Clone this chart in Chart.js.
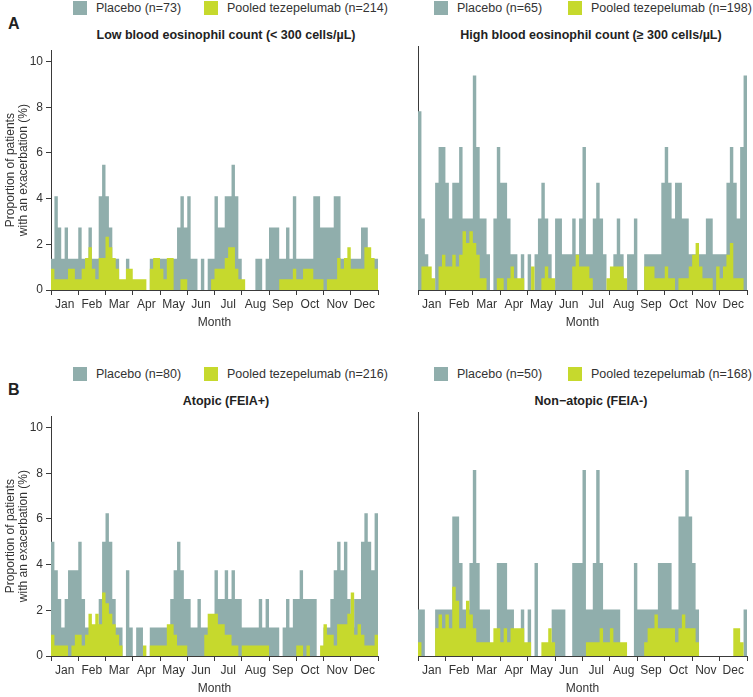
<!DOCTYPE html>
<html>
<head>
<meta charset="utf-8">
<script src="https://cdn.jsdelivr.net/npm/chart.js@4.4.1/dist/chart.umd.min.js"></script>
<style>
  html, body { margin: 0; padding: 0; background: #fff; width: 753px; height: 697px; overflow: hidden; }
  body { position: relative; font-family: "Liberation Sans", Arial, sans-serif; color: #333; }
  canvas { position: absolute; }
  .txt { position: absolute; white-space: nowrap; }
  .letter { font-weight: bold; font-size: 16px; color: #222; }
  .ptitle { font-weight: bold; font-size: 12.5px; color: #222; transform: translate(-50%, -50%); }
  .sw { position: absolute; width: 14px; height: 14px; }
  .lg { font-size: 12.5px; color: #333; transform: translateY(-50%); }
</style>
</head>
<body>
<div id="root"></div>
<script>
// ---------- DATA ----------
const months = ['Jan','Feb','Mar','Apr','May','Jun','Jul','Aug','Sep','Oct','Nov','Dec'];
const binsPerMonth = 8; // each value covers 1/8 of a month

// Patients with an exacerbation per period (counts)
const nLowPlacebo = 73,  nLowTez = 214;
const nHighPlacebo = 65, nHighTez = 198;
const nAtopicPlacebo = 80, nAtopicTez = 216;
const nNonAtopicPlacebo = 50, nNonAtopicTez = 168;

const lowPlacebo = [
  1,3,2,1,2,1,1,1,2,1, 1,2,1,1,3,4,3,2,1,1, 0,0,1,0,0,0,0,0,0,1,
  1,1,1,1,1,1,1,2,3,2, 3,1,1,0,1,0,1,1,3,2, 2,3,3,4,3,1,0,0,0,0,
  1,1,0,1,2,2,2,1,1,2, 1,3,1,1,1,1,1,3,3,2, 2,2,2,3,3,1,1,1,1,1,
  1,2,2,1,1,1];
const lowTez = [
  2,1,1,1,1,2,2,1,1,2, 3,4,2,1,3,3,5,4,3,2, 1,1,2,2,1,1,1,1,0,2,
  3,3,2,1,3,3,0,0,1,1, 0,0,0,0,0,0,0,1,2,2, 2,3,4,4,2,1,1,0,0,0,
  0,0,0,0,0,0,0,1,1,1, 1,2,1,1,2,2,2,1,1,1, 0,1,1,1,3,2,3,4,2,2,
  2,2,4,4,3,2];
const highPlacebo = [
  5,2,1,0,0,3,4,4,3,2, 3,3,4,2,2,2,6,4,2,2, 1,0,2,4,3,3,2,1,1,0,
  1,0,1,0,1,2,3,2,1,0, 2,2,1,1,1,2,1,2,4,1, 1,2,3,2,1,0,0,1,2,1,
  0,1,1,2,0,0,1,1,1,1, 1,3,4,3,2,3,3,2,2,1, 1,1,1,1,2,2,1,1,1,1,
  3,4,3,2,4,6];
const highTez = [
  0,2,2,2,1,0,2,3,2,2, 3,2,3,5,4,5,4,3,1,1, 0,0,0,1,1,0,1,2,1,1,
  1,0,0,2,0,0,1,2,1,1, 0,0,0,0,0,2,3,2,2,2, 1,0,0,0,0,1,2,2,2,2,
  1,0,0,0,0,0,2,2,2,1, 1,1,2,1,1,0,1,1,1,2, 3,4,2,1,1,1,0,2,1,2,
  3,4,1,1,1,0];
const atopicPlacebo = [
  4,3,2,1,2,3,3,3,4,2, 1,1,1,1,2,4,5,4,2,1, 1,0,3,1,0,1,1,0,0,1,
  1,1,1,1,1,2,3,4,3,2, 2,1,1,2,1,1,1,1,3,2, 2,3,2,3,2,2,1,1,1,1,
  1,2,1,2,1,1,1,0,1,2, 1,2,2,3,2,2,2,2,0,0, 1,1,2,3,4,3,4,2,1,2,
  2,4,5,4,3,5];
const atopicTez = [
  2,1,1,1,1,0,1,2,2,1, 2,4,3,4,3,6,5,4,3,2, 1,0,0,0,0,0,0,1,0,1,
  1,1,1,1,3,3,2,1,1,1, 0,0,0,0,0,2,4,4,4,3, 3,2,2,1,1,0,1,1,1,1,
  1,1,1,1,0,0,0,0,0,0, 0,0,1,1,0,1,0,0,0,1, 3,2,2,1,3,3,3,4,6,2,
  3,2,1,1,1,2];
const nonAtopicPlacebo = [
  1,1,0,0,0,1,1,1,1,1, 3,3,2,1,1,2,4,2,1,1, 1,0,0,2,2,2,1,1,0,0,
  1,0,1,0,2,0,0,0,0,1, 1,1,1,0,0,2,2,2,4,1, 1,2,4,2,1,1,1,1,1,0,
  0,0,0,2,1,1,1,1,1,1, 2,2,2,2,1,1,3,3,4,3, 2,1,0,0,0,0,0,0,0,0,
  0,0,0,0,0,1];
const nonAtopicTez = [
  1,0,0,0,0,2,3,2,3,2, 5,4,2,2,4,3,2,1,1,1, 1,1,2,2,1,2,1,2,2,2,
  2,1,1,0,0,0,1,1,2,1, 0,0,0,0,0,0,0,0,0,1, 1,1,1,2,1,1,2,1,1,1,
  1,0,0,0,0,0,1,2,2,3, 2,2,2,2,2,1,2,3,2,2, 2,1,0,0,0,0,0,0,0,0,
  0,0,2,2,1,0];

const yTicks = [0, 2, 4, 6, 8, 10];

// ---------- STYLE ----------
const PLACEBO = '#90aeac';
const TEZ = '#c6d92d';
const AXIS = '#3a3a3a';
const TEXT = '#333333';

function toPoints(counts, n) {
  const pts = counts.map((c, i) => ({ x: i / binsPerMonth, y: c / n * 100 }));
  const last = counts[counts.length - 1];
  pts.push({ x: counts.length / binsPerMonth, y: last / n * 100 });
  return pts;
}

const root = document.getElementById('root');
function addDiv(cls, text, left, top, extra) {
  const d = document.createElement('div');
  d.className = cls;
  if (text !== null) d.textContent = text;
  d.style.left = left + 'px';
  d.style.top = top + 'px';
  if (extra) Object.assign(d.style, extra);
  root.appendChild(d);
  return d;
}

function legend(x0, x1, cy, nP, nT) {
  addDiv('sw', null, x0, cy - 7, { background: PLACEBO });
  addDiv('txt lg', 'Placebo (n=' + nP + ')', x0 + 23, cy);
  addDiv('sw', null, x1, cy - 7, { background: TEZ });
  addDiv('txt lg', 'Pooled tezepelumab (n=' + nT + ')', x1 + 23, cy);
}

function panel(opts) {
  const c = document.createElement('canvas');
  c.width = opts.w; c.height = 292;
  c.style.left = opts.left + 'px';
  c.style.top = opts.top + 'px';
  c.style.width = opts.w + 'px';
  c.style.height = '292px';
  root.appendChild(c);

  const yScale = {
    type: 'linear', min: 0, max: 10.5,
    ticks: {
      display: opts.showY, stepSize: 2, includeBounds: false,
      color: TEXT, font: { family: 'Liberation Sans', size: 12 }, padding: 3
    },
    afterBuildTicks: (s) => { s.ticks = yTicks.map(v => ({ value: v })); },
    grid: { drawOnChartArea: false, drawTicks: opts.showY, tickLength: 5, color: AXIS, tickColor: AXIS },
    border: { display: true, color: AXIS, width: 1 },
    title: {
      display: opts.showY,
      text: ['Proportion of patients', 'with an exacerbation (%)'],
      color: TEXT, font: { family: 'Liberation Sans', size: 12, lineHeight: 1.12 },
      padding: { top: 4, bottom: 0 }
    },
    afterFit: (s) => { s.width = opts.yw; }
  };

  new Chart(c, {
    type: 'line',
    data: {
      datasets: [
        { label: 'Placebo', data: toPoints(opts.pl, opts.nP), backgroundColor: PLACEBO,
          borderWidth: 0, pointRadius: 0, fill: 'origin', stepped: true, order: 2 },
        { label: 'Pooled tezepelumab', data: toPoints(opts.tz, opts.nT), backgroundColor: TEZ,
          borderWidth: 0, pointRadius: 0, fill: 'origin', stepped: true, order: 1 }
      ]
    },
    options: {
      responsive: false, animation: false, devicePixelRatio: 1,
      layout: { padding: { top: 6, right: opts.padR, left: 0, bottom: 0 } },
      plugins: { legend: { display: false }, tooltip: { enabled: false }, title: { display: false } },
      scales: {
        x: {
          type: 'linear', min: 0, max: 12,
          ticks: {
            stepSize: 0.5, autoSkip: false, maxRotation: 0, minRotation: 0,
            color: TEXT, font: { family: 'Liberation Sans', size: 12 }, padding: 2,
            callback: (v) => Number.isInteger(v) ? '' : months[Math.floor(v)]
          },
          grid: {
            drawOnChartArea: false, drawTicks: true, tickLength: 5,
            color: (ctx) => (ctx.tick && Number.isInteger(ctx.tick.value)) ? AXIS : 'rgba(0,0,0,0)',
            tickColor: (ctx) => (ctx.tick && Number.isInteger(ctx.tick.value)) ? AXIS : 'rgba(0,0,0,0)'
          },
          border: { display: true, color: AXIS, width: 1 },
          title: {
            display: true, text: 'Month', color: TEXT,
            font: { family: 'Liberation Sans', size: 12, lineHeight: 1.2 },
            padding: { top: 0, bottom: 2 }
          },
          afterFit: (s) => { s.height = 42; }
        },
        y: yScale
      }
    }
  });
}

// ---------- LAYOUT ----------
const rows = [
  { top: 40, letter: 'A', legendY: 8, titleY: 35, letterY: 15,
    left:  { title: 'Low blood eosinophil count (< 300 cells/\u00B5L)', pl: lowPlacebo, nP: nLowPlacebo, tz: lowTez, nT: nLowTez },
    right: { title: 'High blood eosinophil count (\u2265 300 cells/\u00B5L)', pl: highPlacebo, nP: nHighPlacebo, tz: highTez, nT: nHighTez } },
  { top: 406, letter: 'B', legendY: 374, titleY: 401, letterY: 381,
    left:  { title: 'Atopic (FEIA+)', pl: atopicPlacebo, nP: nAtopicPlacebo, tz: atopicTez, nT: nAtopicTez },
    right: { title: 'Non\u2212atopic (FEIA-)', pl: nonAtopicPlacebo, nP: nNonAtopicPlacebo, tz: nonAtopicTez, nT: nNonAtopicTez } }
];

rows.forEach(r => {
  addDiv('txt letter', r.letter, 8, r.letterY);
  legend(73, 204, r.legendY, r.left.nP, r.left.nT);
  legend(434, 568, r.legendY, r.right.nP, r.right.nT);
  addDiv('txt ptitle', r.left.title, 226, r.titleY);
  addDiv('txt ptitle', r.right.title, 591, r.titleY);
  panel({ left: 0, top: r.top, w: 385, yw: 51, padR: 7, showY: true,
          pl: r.left.pl, nP: r.left.nP, tz: r.left.tz, nT: r.left.nT });
  panel({ left: 410, top: r.top, w: 343, yw: 8, padR: 6, showY: false,
          pl: r.right.pl, nP: r.right.nP, tz: r.right.tz, nT: r.right.nT });
});
</script>
</body>
</html>
